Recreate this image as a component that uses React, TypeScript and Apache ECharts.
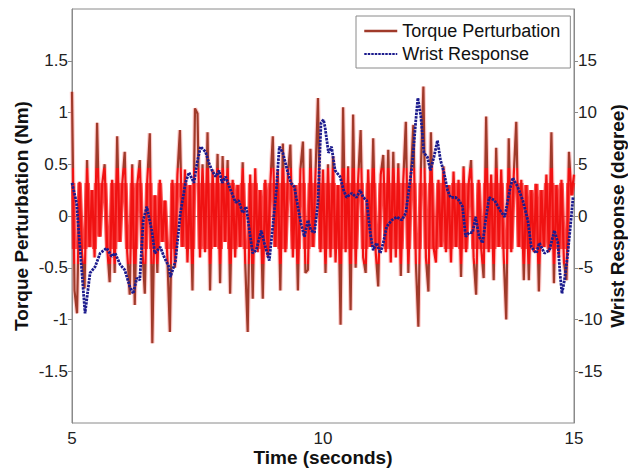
import React, { useEffect, useRef } from "react";
import * as echarts from "echarts";

const torqueStart = 5;
const torqueStep = 0.05;
const torqueNm = [
  1.2, -0.72, -0.94, 0.33, -0.35, -0.7, 0.54, -0.3, 0.25, -0.4,
  0.9, -0.2, 0.3, 0.5, -0.3, -0.64, 0.35, -0.55, 0.77, -0.25,
  0.3, 0.62, -0.35, -0.76, 0.5, -0.86, 0.3, 0.54, -0.3, -0.75,
  0.35, 0.8, -1.23, 0.2, -0.55, 0.35, -0.25, 0.15, -0.4, -1.12,
  0.35, -0.5, 0.4, 0.83, -0.3, 0.45, -0.45, 0.3, -0.72, 1.04,
  0.99, -0.4, 0.5, -0.35, 0.81, -0.72, 0.45, -0.3, 0.6, -0.65,
  0.58, -0.25, 0.54, -0.75, 0.35, -0.4, 0.3, -0.3, 0.52, -0.45,
  -1.12, 0.4, -0.8, 0.46, -0.35, 0.25, -0.8, 0.35, -0.4, 0.3,
  0.77, -0.3, 0.45, -0.72, 0.7, -0.35, 0.4, 0.69, -0.4, 0.3,
  -0.72, 0.45, 0.72, -0.55, -0.52, 0.65, -0.3, 0.4, 1.14, -0.35,
  0.45, -0.55, 0.5, -0.4, 0.58, -0.45, 0.3, -1.05, 1.05, -0.35,
  0.48, -0.91, 0.98, -0.5, 0.35, 0.83, -0.4, -0.55, 0.45, -0.3,
  0.75, -0.35, -0.68, 0.4, 0.59, -0.35, 0.64, -0.45, 0.62, -0.4,
  0.51, -0.58, 0.35, 0.91, -0.55, 0.4, 0.88, -0.45, -1.07, 0.45,
  1.25, -0.4, -0.73, 0.81, -0.3, -0.45, 0.35, -0.3, 0.48, -0.35,
  0.3, -0.45, 0.43, -0.3, 0.35, -0.59, 0.48, -0.35, 0.3, 0.54,
  -0.4, -0.76, 0.35, -0.3, -0.6, 0.96, -0.35, 0.4, -0.62, 0.66,
  -0.3, 0.45, -0.4, -1.0, 0.75, -0.35, 0.4, 0.91, -0.3, 0.35,
  -0.62, 0.3, -0.62, 0.25, -0.35, 0.31, -0.73, 0.25, -0.3, 0.4,
  -0.35, 0.81, -0.65, 0.3, -0.4, 0.35, -0.45, -0.62, 0.62, 0.2,
  0.4,
];

const wristTime = [
  5.0, 5.09, 5.26, 5.36, 5.46, 5.56, 5.69, 5.79, 5.86, 5.96,
  6.05, 6.15, 6.22, 6.29, 6.35, 6.42, 6.49, 6.59, 6.65, 6.76,
  6.83, 6.93, 6.96, 7.06, 7.16, 7.26, 7.33, 7.43, 7.49, 7.56,
  7.66, 7.73, 7.79, 7.86, 7.93, 7.99, 8.06, 8.16, 8.26, 8.32,
  8.4, 8.47, 8.54, 8.6, 8.67, 8.77, 8.83, 8.93, 9.0, 9.07,
  9.13, 9.2, 9.3, 9.36, 9.43, 9.5, 9.56, 9.63, 9.7, 9.76,
  9.83, 9.9, 9.96, 10.01, 10.04, 10.11, 10.17, 10.24, 10.34, 10.41,
  10.47, 10.57, 10.67, 10.74, 10.8, 10.87, 10.94, 11.0, 11.07, 11.14,
  11.2, 11.27, 11.37, 11.47, 11.57, 11.65, 11.71, 11.78, 11.85, 11.89,
  11.95, 12.01, 12.08, 12.14, 12.21, 12.28, 12.34, 12.41, 12.48, 12.54,
  12.64, 12.71, 12.78, 12.84, 12.91, 12.98, 13.04, 13.11, 13.18, 13.24,
  13.31, 13.42, 13.52, 13.62, 13.72, 13.78, 13.88, 13.98, 14.08, 14.15,
  14.25, 14.31, 14.41, 14.51, 14.61, 14.68, 14.72, 14.76, 14.81, 14.87,
  14.94, 14.98,
];
const wristDeg = [
  3.2, 1.3, -9.4, -5.5, -4.9, -3.6, -3.1, -3.9, -3.6, -4.7,
  -5.2, -6.8, -7.5, -6.0, -6.2, -0.4, 0.9, -1.4, -3.6, -3.0,
  -3.9, -4.9, -5.9, -4.4, 0.3, 3.2, 4.2, 3.2, 5.1, 6.7,
  6.2, 5.1, 4.4, 3.8, 4.4, 3.2, 3.8, 2.5, 1.3, 1.5,
  0.3, 0.9, -1.6, -3.6, -3.3, -1.4, -2.6, -4.3, -1.0, 2.5,
  6.7, 6.1, 4.2, 3.2, 2.8, 0.9, -0.7, -2.0, -0.4, -1.4,
  -1.6, 1.3, 9.0, 9.3, 8.6, 6.1, 6.7, 4.4, 3.8, 2.5,
  1.8, 2.2, 1.8, 2.5, 1.8, 1.5, -1.6, -3.3, -2.6, -3.6,
  -2.6, -1.0, -0.4, -0.1, -0.4, 0.3, 2.5, 5.1, 9.3, 11.4,
  9.6, 6.1, 5.7, 4.4, 5.7, 7.3, 5.4, 4.2, 2.5, 1.8,
  1.8, 1.5, 0.9, -2.0, -1.6, -1.6, -0.1, -2.0, -2.6, -0.4,
  1.8, 1.5, 0.6, -0.1, 2.5, 3.7, 2.8, 1.5, -0.4, -3.0,
  -3.6, -2.6, -3.6, -3.3, -1.4, -2.6, -5.5, -7.5, -6.2, -3.9,
  -0.4, 1.8,
];

const xTicks = { min: 5, max: 15, interval: 5 };
const leftTicks = { min: -2, max: 2, interval: 0.5 };
const rightTicks = { min: -20, max: 20, interval: 5 };

const FONT = "'Liberation Sans', Arial, sans-serif";
const AXIS_GRAY = "#8a8a8a";
const BROWN = "#a03a2a";
const RED = "#f01212";
const NAVY = "#1c1c8e";

export default function App() {
  const ref = useRef<HTMLDivElement>(null);

  useEffect(() => {
    if (!ref.current) return;
    const chart = echarts.init(ref.current, undefined, { renderer: "svg" });
    const torqueData = torqueNm.map((v, i) => [
      +(torqueStart + i * torqueStep).toFixed(3),
      v,
    ]);
    const wristData = wristTime.map((t, i) => [t, wristDeg[i]]);

    const labelStyle = { color: "#222", fontSize: 17, fontFamily: FONT };
    const nameStyle = {
      color: "#111",
      fontSize: 19,
      fontWeight: "bold" as const,
      fontFamily: FONT,
    };

    chart.setOption({
      animation: false,
      backgroundColor: "#fff",
      textStyle: { fontFamily: FONT },
      grid: {
        left: 72,
        right: 54,
        top: 9,
        bottom: 47,
        outerBoundsMode: "none",
        containLabel: false,
        show: true,
        borderColor: AXIS_GRAY,
        borderWidth: 1,
        backgroundColor: "transparent",
      },
      visualMap: [
        {
          type: "piecewise",
          show: false,
          seriesIndex: 1,
          dimension: 1,
          pieces: [
            { gt: 0.46, color: BROWN },
            { gte: -0.46, lte: 0.46, color: RED },
            { lt: -0.46, color: BROWN },
          ],
        },
        {
          type: "piecewise",
          show: false,
          seriesIndex: 0,
          dimension: 1,
          pieces: [
            { gt: 0.32, color: "rgba(255,140,140,0.45)" },
            { gte: -0.32, lte: 0.32, color: "rgba(250,30,30,0.8)" },
            { lt: -0.32, color: "rgba(255,140,140,0.45)" },
          ],
        },
      ],
      legend: {
        data: [
          { name: "Torque Perturbation", lineStyle: { color: BROWN, width: 2.5 } },
          { name: "Wrist Response", lineStyle: { color: NAVY, width: 2 } },
        ],
        orient: "vertical",
        left: 356,
        top: 16,
        padding: [5, 10, 4, 7],
        itemWidth: 33,
        itemHeight: 14,
        itemGap: 3,
        itemStyle: { opacity: 0 },
        backgroundColor: "#fff",
        borderColor: AXIS_GRAY,
        borderWidth: 1,
        borderRadius: 0,
        textStyle: {
          color: "#111",
          fontSize: 18,
          fontFamily: FONT,
          lineHeight: 20,
        },
      },
      xAxis: [
        {
          type: "value",
          position: "bottom",
          min: xTicks.min,
          max: xTicks.max,
          interval: xTicks.interval,
          name: "Time (seconds)",
          nameLocation: "middle",
          nameGap: 25,
          nameMoveOverlap: false,
          nameTextStyle: nameStyle,
          axisLine: { show: true, lineStyle: { color: AXIS_GRAY } },
          axisTick: { show: true, inside: true, length: 4, lineStyle: { color: AXIS_GRAY } },
          axisLabel: { ...labelStyle, margin: 7 },
          splitLine: { show: false },
        },
        {
          type: "value",
          position: "top",
          min: xTicks.min,
          max: xTicks.max,
          interval: xTicks.interval,
          axisLine: { show: true, lineStyle: { color: AXIS_GRAY } },
          axisTick: { show: true, inside: true, length: 4, lineStyle: { color: AXIS_GRAY } },
          axisLabel: { show: false },
          splitLine: { show: false },
        },
      ],
      yAxis: [
        {
          type: "value",
          position: "left",
          min: leftTicks.min,
          max: leftTicks.max,
          interval: leftTicks.interval,
          name: "Torque Perturbation (Nm)",
          nameLocation: "middle",
          nameGap: 41,
          nameMoveOverlap: false,
          nameTextStyle: nameStyle,
          axisLine: { show: true, lineStyle: { color: AXIS_GRAY } },
          axisTick: { show: true, inside: false, length: 4, lineStyle: { color: AXIS_GRAY } },
          axisLabel: { ...labelStyle, margin: 4, showMinLabel: false, showMaxLabel: false },
          splitLine: { show: false },
        },
        {
          type: "value",
          position: "right",
          min: rightTicks.min,
          max: rightTicks.max,
          interval: rightTicks.interval,
          name: "Wrist Response (degree)",
          nameLocation: "middle",
          nameGap: 34,
          nameMoveOverlap: false,
          nameTextStyle: nameStyle,
          axisLine: { show: true, lineStyle: { color: AXIS_GRAY } },
          axisTick: { show: true, inside: false, length: 4, lineStyle: { color: AXIS_GRAY } },
          axisLabel: { ...labelStyle, margin: 4, showMinLabel: false, showMaxLabel: false },
          splitLine: { show: false },
        },
      ],
      series: [
        {
          name: "_glow",
          type: "line",
          xAxisIndex: 0,
          yAxisIndex: 0,
          data: torqueData,
          showSymbol: false,
          symbol: "none",
          z: 1,
          silent: true,
          lineStyle: { width: 4.5 },
        },
        {
          name: "Torque Perturbation",
          type: "line",
          xAxisIndex: 0,
          yAxisIndex: 0,
          data: torqueData,
          showSymbol: false,
          symbol: "none",
          z: 2,
          lineStyle: { width: 2.2 },
        },
        {
          name: "Wrist Response",
          type: "line",
          xAxisIndex: 0,
          yAxisIndex: 1,
          data: wristData,
          showSymbol: false,
          symbol: "none",
          z: 3,
          lineStyle: { color: NAVY, width: 2.8, type: [2.5, 1] },
          itemStyle: { color: NAVY },
        },
      ],
    });

    return () => chart.dispose();
  }, []);

  return (
    <div
      ref={ref}
      style={{ position: "fixed", left: 0, top: 0, width: 628, height: 470 }}
    />
  );
}
